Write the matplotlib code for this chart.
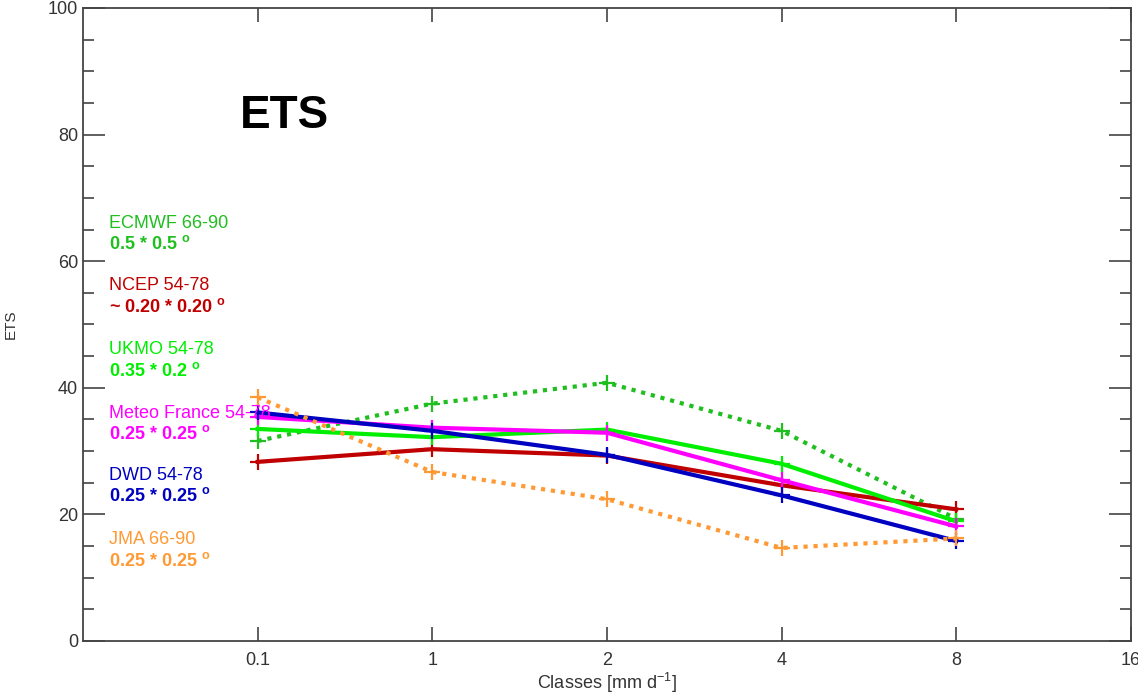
import numpy as np
import matplotlib.pyplot as plt
import matplotlib as mpl

mpl.rcParams['font.family'] = 'Liberation Sans'
mpl.rcParams['mathtext.fontset'] = 'custom'
mpl.rcParams['mathtext.rm'] = 'Liberation Sans'
mpl.rcParams['mathtext.it'] = 'Liberation Sans'
mpl.rcParams['mathtext.bf'] = 'Liberation Sans:bold'

# Data
classes = ['0.1', '1', '2', '4', '8', '16']
x = np.arange(5)  # 0.1 .. 8

ecmwf = [31.6, 37.5, 40.8, 33.2, 19.3]
ncep = [28.3, 30.3, 29.3, 24.6, 20.8]
ukmo = [33.5, 32.2, 33.4, 28.0, 18.9]
meteofr = [35.4, 33.7, 32.9, 25.4, 18.1]
dwd = [36.1, 33.2, 29.4, 23.0, 15.8]
jma = [38.5, 26.7, 22.4, 14.7, 16.2]

names = ['ECMWF 66-90', 'NCEP 54-78', 'UKMO 54-78',
         'Meteo France 54-78', 'DWD 54-78', 'JMA 66-90']
grids = ['0.5 * 0.5', '~ 0.20 * 0.20', '0.35 * 0.2',
         '0.25 * 0.25', '0.25 * 0.25', '0.25 * 0.25']
colors = ['#1fbf1f', '#c00000', '#00ee00', '#ff00ff', '#0000c0', '#ff9933']
styles = [(0, (1, 1.4)), '-', '-', '-', '-', (0, (1, 1.4))]
series = [ecmwf, ncep, ukmo, meteofr, dwd, jma]

fig = plt.figure(figsize=(11.38, 6.95), dpi=100)
ax = fig.add_axes([0.0729, 0.0777, 0.9209, 0.9108])

for y, c, ls in zip(series, colors, styles):
    ax.plot(x, y, color=c, linestyle=ls, linewidth=3, marker='+',
            markersize=11, markeredgewidth=1.6)

# labels of the models
label_y = [66.0, 56.1, 46.0, 36.0, 26.2, 16.0]
for n, g, c, ly in zip(names, grids, colors, label_y):
    ax.text(-0.85, ly, n, color=c, fontsize=13, va='center', ha='left')
    t = ax.text(-0.85, ly - 3.3, g + ' $^{\\mathbf{o}}$', color=c, fontsize=13,
                fontweight='bold', va='center', ha='left')

ax.text(-0.1, 83, 'ETS', fontsize=33, fontweight='bold', ha='left', va='center')

ax.set_xlim(-1, 5)
ax.set_ylim(0, 100)
ax.set_xticks(np.arange(6))
ax.set_xticklabels(classes)
ax.set_yticks(np.arange(0, 101, 20))
ax.set_yticks(np.arange(0, 101, 5), minor=True)

for s in ax.spines.values():
    s.set_color('#444444')
    s.set_linewidth(1.3)
ax.tick_params(axis='x', direction='in', length=10, width=1.2, color='#444444',
               top=True, labelsize=13, labelcolor='#333333', pad=8)
ax.tick_params(axis='y', which='major', direction='in', length=16, width=1.2,
               color='#444444', right=True, labelsize=13, labelcolor='#333333')
ax.tick_params(axis='y', which='minor', direction='in', length=8, width=1.2,
               color='#444444', right=True)

ax.set_xlabel('Classes [mm d$^{-1}$]', fontsize=13, color='#333333', labelpad=1)
ax.set_ylabel('ETS', fontsize=11, color='#333333', labelpad=22)

plt.savefig('out.png', dpi=100)
